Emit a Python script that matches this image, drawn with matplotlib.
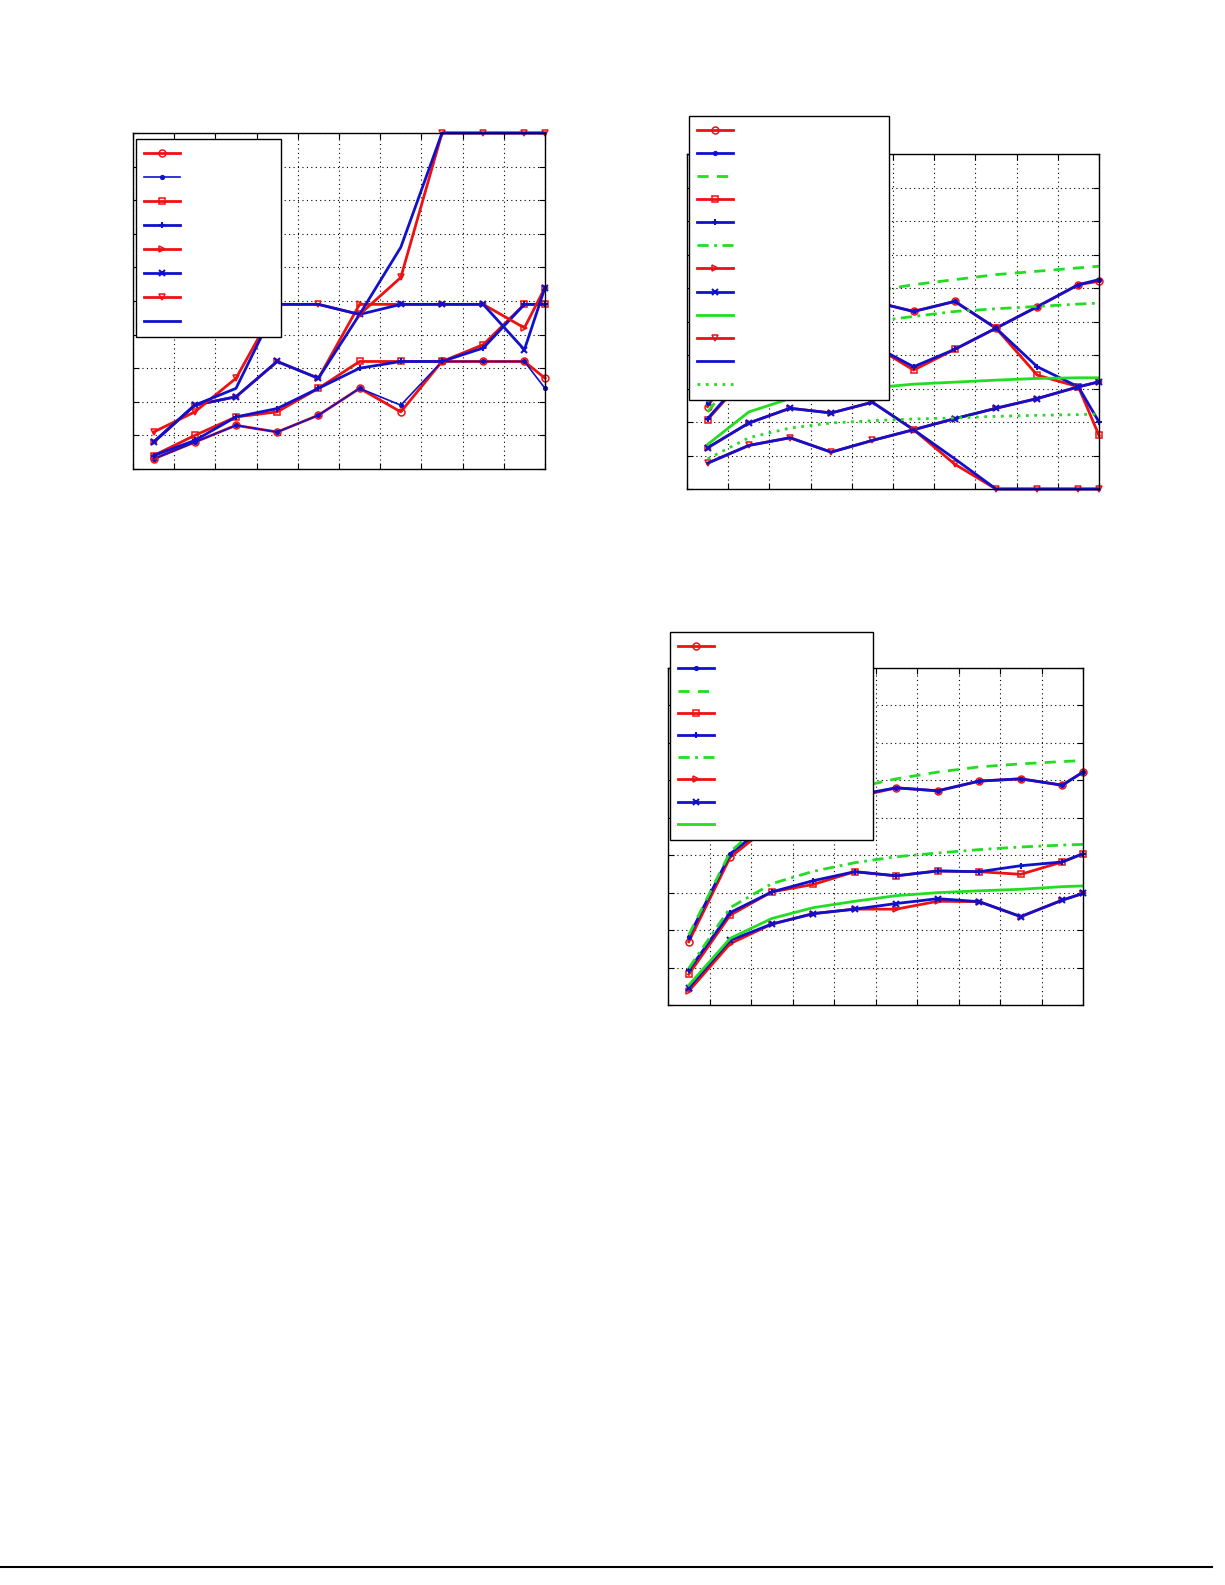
import matplotlib
matplotlib.use("Agg")
import matplotlib.pyplot as plt
from matplotlib.lines import Line2D

RED = "#ee1111"
BLUE = "#1111cc"
GREEN = "#22dd22"

x = [0.5, 1.5, 2.5, 3.5, 4.5, 5.5, 6.5, 7.5, 8.5, 9.5, 10]

# panel 1 (top left)
p1_circle = [0.3, 0.8, 1.3, 1.1, 1.6, 2.4, 1.7, 3.2, 3.2, 3.2, 2.7]
p1_dot = [0.3, 0.8, 1.3, 1.1, 1.6, 2.4, 1.9, 3.2, 3.2, 3.2, 2.4]
p1_square = [0.4, 1.0, 1.55, 1.7, 2.4, 3.2, 3.2, 3.2, 3.7, 4.9, 4.9]
p1_plus = [0.4, 0.85, 1.55, 1.8, 2.4, 3.0, 3.2, 3.2, 3.6, 4.9, 4.9]
p1_tright = [0.8, 1.9, 2.15, 3.2, 2.7, 4.9, 4.9, 4.9, 4.9, 4.2, 5.4]
p1_x = [0.8, 1.9, 2.15, 3.2, 2.7, 4.6, 4.9, 4.9, 4.9, 3.55, 5.4]
p1_tdown = [1.1, 1.7, 2.7, 4.9, 4.9, 4.6, 5.7, 10, 10, 10, 10]
p1_plain = [0.8, 1.9, 2.4, 4.9, 4.9, 4.6, 6.6, 10, 10, 10, 10]

# panel 2 (top right)
p2_circle = [2.46, 4.3, 5.0, 5.5, 5.6, 5.3, 5.6, 4.8, 5.44, 6.1, 6.2]
p2_dot = [2.58, 4.4, 5.1, 5.5, 5.6, 5.3, 5.6, 4.8, 5.44, 6.1, 6.25]
p2_dash = [2.6, 4.3, 5.1, 5.6, 5.9, 6.1, 6.25, 6.4, 6.5, 6.6, 6.65]
p2_square = [2.07, 3.45, 4.0, 4.4, 4.3, 3.55, 4.17, 4.8, 3.4, 3.05, 1.6]
p2_plus = [2.1, 3.5, 4.0, 4.4, 4.3, 3.65, 4.17, 4.8, 3.65, 3.05, 2.0]
p2_dashdot = [2.3, 3.85, 4.4, 4.75, 5.0, 5.15, 5.3, 5.38, 5.45, 5.52, 5.55]
p2_tright = [1.23, 1.97, 2.41, 2.27, 2.59, 1.77, 2.1, 2.41, 2.7, 3.05, 3.2]
p2_x = [1.23, 1.97, 2.41, 2.27, 2.59, 1.77, 2.1, 2.41, 2.7, 3.05, 3.2]
p2_solid = [1.33, 2.3, 2.7, 2.9, 3.02, 3.13, 3.19, 3.25, 3.3, 3.32, 3.32]
p2_tdown = [0.77, 1.3, 1.53, 1.1, 1.45, 1.77, 0.74, 0, 0, 0, 0]
p2_plain = [0.77, 1.3, 1.53, 1.1, 1.45, 1.77, 0.9, 0, 0, 0, 0]
p2_dotted = [0.9, 1.53, 1.82, 1.97, 2.04, 2.09, 2.12, 2.17, 2.2, 2.22, 2.24]

# panel 3 (middle right)
p3_circle = [1.69, 3.95, 4.82, 5.3, 5.55, 5.8, 5.72, 5.98, 6.04, 5.87, 6.22]
p3_dot = [1.82, 4.04, 4.9, 5.35, 5.6, 5.8, 5.72, 5.98, 6.04, 5.87, 6.22]
p3_dash = [1.87, 4.09, 5.07, 5.5, 5.8, 6.04, 6.22, 6.36, 6.44, 6.5, 6.53]
p3_square = [0.82, 2.4, 3.02, 3.22, 3.56, 3.45, 3.58, 3.56, 3.49, 3.82, 4.04]
p3_plus = [0.93, 2.47, 3.02, 3.32, 3.56, 3.45, 3.58, 3.56, 3.72, 3.82, 4.04]
p3_dashdot = [0.98, 2.6, 3.24, 3.57, 3.8, 3.96, 4.06, 4.15, 4.22, 4.27, 4.29]
p3_tright = [0.37, 1.64, 2.16, 2.44, 2.56, 2.56, 2.77, 2.76, 2.36, 2.8, 2.98]
p3_x = [0.46, 1.73, 2.16, 2.44, 2.56, 2.71, 2.84, 2.76, 2.36, 2.8, 2.98]
p3_solid = [0.53, 1.78, 2.31, 2.6, 2.77, 2.92, 3.0, 3.05, 3.09, 3.16, 3.18]

W, H = 1225, 1585
fig = plt.figure(figsize=(W / 100, H / 100), dpi=100)


def box(l, t, r, b):
    return [l / W, 1 - b / H, (r - l) / W, (b - t) / H]


def style(ax, ymax):
    ax.set_xlim(0, 10)
    ax.set_ylim(0, ymax)
    ax.set_xticks(range(11))
    ax.set_yticks(range(ymax + 1))
    ax.set_xticklabels([])
    ax.set_yticklabels([])
    ax.tick_params(direction="in", length=4, top=True, right=True)
    ax.grid(True, color="black", linestyle=(0, (1, 3)), linewidth=0.8)
    for s in ax.spines.values():
        s.set_linewidth(1.0)


def red(ax, y, m):
    ax.plot(x, y, color=RED, lw=2, marker=m, ms=5, mfc="none", mew=1.1, clip_on=False)


def blue(ax, y, m, lw=2):
    ax.plot(x, y, color=BLUE, lw=lw, marker=m, ms=4.5, mew=1.5, clip_on=False)


def green(ax, y, ls):
    ax.plot(x, y, color=GREEN, lw=2, linestyle=ls)


def legend(ax, l, t, r, b, n):
    leg = ax.legend(ax.get_lines()[:n], [""] * n,
                    loc="upper left", mode="expand",
                    bbox_to_anchor=(l / W, 1 - t / H, (r - l) / W, 0.0001),
                    bbox_transform=fig.transFigure, fancybox=False,
                    edgecolor="black", framealpha=1, handlelength=2.6,
                    handletextpad=0, borderaxespad=0, borderpad=0.6,
                    labelspacing=(b - t - 30) / (n * 10.0) - 1.0, fontsize=10)
    leg.get_frame().set_linewidth(1.0)


ax1 = fig.add_axes(box(133, 133, 545, 469))
style(ax1, 10)
red(ax1, p1_circle, "o")
blue(ax1, p1_dot, ".", lw=1.2)
red(ax1, p1_square, "s")
blue(ax1, p1_plus, "+")
red(ax1, p1_tright, ">")
blue(ax1, p1_x, "x")
red(ax1, p1_tdown, "v")
blue(ax1, p1_plain, None)
legend(ax1, 136, 139, 281, 306, 8)

ax2 = fig.add_axes(box(687, 154, 1099, 489))
style(ax2, 10)
red(ax2, p2_circle, "o")
blue(ax2, p2_dot, ".")
green(ax2, p2_dash, (0, (4, 3)))
red(ax2, p2_square, "s")
blue(ax2, p2_plus, "+")
green(ax2, p2_dashdot, (0, (4, 2, 1, 2)))
red(ax2, p2_tright, ">")
blue(ax2, p2_x, "x")
green(ax2, p2_solid, "-")
red(ax2, p2_tdown, "v")
blue(ax2, p2_plain, None)
green(ax2, p2_dotted, (0, (1, 2)))
legend(ax2, 689, 116, 889, 344, 12)

ax3 = fig.add_axes(box(668, 668, 1083, 1005))
style(ax3, 9)
red(ax3, p3_circle, "o")
blue(ax3, p3_dot, ".")
green(ax3, p3_dash, (0, (4, 3)))
red(ax3, p3_square, "s")
blue(ax3, p3_plus, "+")
green(ax3, p3_dashdot, (0, (4, 2, 1, 2)))
red(ax3, p3_tright, ">")
blue(ax3, p3_x, "x")
green(ax3, p3_solid, "-")
legend(ax3, 670, 632, 873, 805, 9)

fig.add_artist(Line2D([0, 1212 / W], [1 - 1567 / H] * 2, color="black", lw=1.5,
                      transform=fig.transFigure))

fig.savefig("out.png", dpi=100)
